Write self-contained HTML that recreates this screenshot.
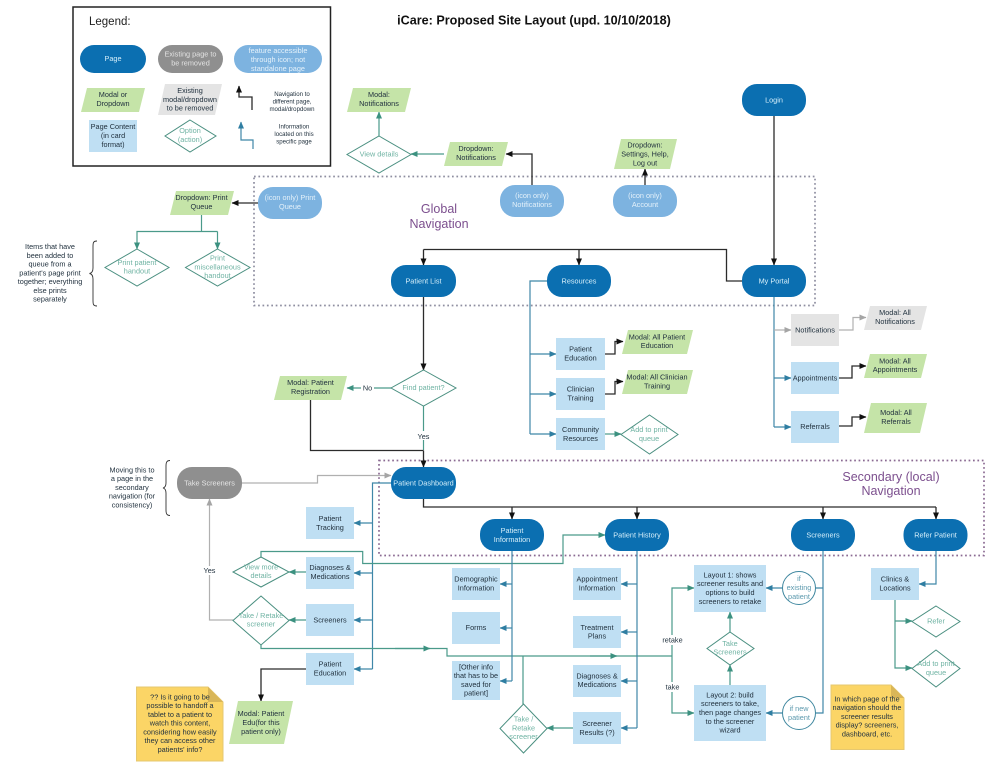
<!DOCTYPE html>
<html><head><meta charset="utf-8">
<style>
html,body{margin:0;padding:0;background:#fff}
svg{display:block;filter:blur(.35px)}
text{font-family:"Liberation Sans",sans-serif;font-size:7.3px;text-anchor:middle;fill:#22323f}
.w text,text.w{fill:#d6effa}
.g text{fill:#e2e2e2}
.i text{fill:#e4f1fa}
.o text{fill:#6fb3a3}
.pg{fill:#0b6fb1}
.gr{fill:#8f8f8f}
.ic{fill:#7db3e0}
.m{fill:#c5e4a8}
.x{fill:#e4e4e4}
.c{fill:#bfdff3}
.d{fill:#fff;stroke:#4a8f80;stroke-width:1}
.cir{fill:#fff;stroke:#3f879f;stroke-width:1}
.n{fill:#fbd566;stroke:#e6c870;stroke-width:1}
.f{fill:#d9b658}
path.k,path.t,path.b,path.y{fill:none;stroke-linejoin:miter}
path.k{stroke:#2b2b2b;stroke-width:1.3;marker-end:url(#ak)}
path.kn{fill:none;stroke:#2b2b2b;stroke-width:1.3}
path.t{stroke:#4a9a8a;stroke-width:1.2;marker-end:url(#at)}
path.tn{fill:none;stroke:#4a9a8a;stroke-width:1.2}
path.b{stroke:#3f87a8;stroke-width:1.2;marker-end:url(#ab)}
path.bn{fill:none;stroke:#3f87a8;stroke-width:1.2}
path.y{stroke:#b0b0b0;stroke-width:1.2;marker-end:url(#ay)}
.brace{fill:none;stroke:#333;stroke-width:.9}
</style></head>
<body>
<svg width="1000" height="767" viewBox="0 0 1000 767" xmlns="http://www.w3.org/2000/svg">
<defs>
<marker id="ak" markerUnits="userSpaceOnUse" markerWidth="8" markerHeight="8" refX="6.5" refY="3" orient="auto"><path d="M0 0L7 3L0 6Z" fill="#111"/></marker>
<marker id="at" markerUnits="userSpaceOnUse" markerWidth="8" markerHeight="8" refX="6.5" refY="3" orient="auto"><path d="M0 0L7 3L0 6Z" fill="#3c9180"/></marker>
<marker id="ab" markerUnits="userSpaceOnUse" markerWidth="8" markerHeight="8" refX="6.5" refY="3" orient="auto"><path d="M0 0L7 3L0 6Z" fill="#2f7ea2"/></marker>
<marker id="ay" markerUnits="userSpaceOnUse" markerWidth="8" markerHeight="8" refX="6.5" refY="3" orient="auto"><path d="M0 0L7 3L0 6Z" fill="#a5a5a5"/></marker>
</defs>

<!-- legend -->
<rect x="73" y="7" width="257.500" height="159" fill="#fff" stroke="#222" stroke-width="1.5"/>
<text x="89" y="25" style="text-anchor:start;font-size:11.5px;fill:#222">Legend:</text>
<text x="534" y="24.500" style="font-weight:bold;font-size:12.6px;fill:#111">iCare: Proposed Site Layout (upd. 10/10/2018)</text>

<rect class="pg" x="80" y="45" width="66" height="28" rx="14"/>
<text class="w" x="113" y="61">Page</text>
<rect class="gr" x="158" y="45" width="65" height="28" rx="14"/>
<g class="g"><text x="190.500" y="56.500">Existing page to</text><text x="190.500" y="65.500">be removed</text></g>
<rect class="ic" x="234" y="45" width="88" height="28" rx="14"/>
<g class="i"><text x="278" y="53">feature accessible</text><text x="278" y="62">through icon; not</text><text x="278" y="71">standalone page</text></g>

<path class="m" d="M87 88H145L139 112H81Z"/>
<text x="113" y="97">Modal or</text><text x="113" y="106">Dropdown</text>
<path class="x" d="M165 84H222L215 115H158Z"/>
<text x="190" y="93">Existing</text><text x="190" y="102">modal/dropdown</text><text x="190" y="110.500">to be removed</text>
<path class="k" d="M252 110V97H239V86"/>
<text x="292" y="96" style="font-size:6.1px">Navigation to</text><text x="292" y="103.500" style="font-size:6.1px">different page,</text><text x="292" y="111" style="font-size:6.1px">modal/dropdown</text>
<rect class="c" x="89" y="120" width="48" height="32"/>
<text x="113" y="129">Page Content</text><text x="113" y="138">(in card</text><text x="113" y="147">format)</text>
<path class="d" d="M190 120L216 136L190 152L165 136Z"/>
<g class="o"><text x="190" y="133">Option</text><text x="190" y="142">(action)</text></g>
<path class="b" d="M253 149V140H241V122"/>
<text x="294" y="128.500" style="font-size:6.1px">Information</text><text x="294" y="136" style="font-size:6.1px">located on this</text><text x="294" y="143.500" style="font-size:6.1px">specific page</text>

<!-- dotted regions -->
<rect x="254" y="176.500" width="561" height="129" fill="none" stroke="#8e8ea0" stroke-width="1.700" stroke-dasharray="1.700 2.700"/>
<rect x="379" y="460.500" width="605" height="95" fill="none" stroke="#8a6a92" stroke-width="1.700" stroke-dasharray="1.700 2.700"/>
<text x="439" y="213" style="font-size:12.500px;fill:#7c4f8e">Global</text><text x="439" y="228" style="font-size:12.500px;fill:#7c4f8e">Navigation</text>
<text x="891" y="481" style="font-size:12.500px;fill:#7c4f8e">Secondary (local)</text><text x="891" y="495" style="font-size:12.500px;fill:#7c4f8e">Navigation</text>

<!-- connectors -->
<path class="k" d="M774 116V265"/>
<path class="kn" d="M742 281H726.500V249.500H423.500"/>
<path class="k" d="M423.500 249.500V265"/>
<path class="k" d="M579 249.500V265"/>
<path class="k" d="M423.500 297V370"/>
<path class="t" d="M391 388H347"/>
<path class="tn" d="M423.500 406V450"/>
<path class="kn" d="M310.500 400V450.500H423.500"/>
<path class="k" d="M423.500 450.500V467"/>
<path class="kn" d="M423.500 499V507H936"/>
<path class="k" d="M512 507V519"/><path class="k" d="M637 507V519"/><path class="k" d="M823 507V519"/><path class="k" d="M936 507V519"/>
<path class="bn" d="M391 483H372.500V669"/>
<path class="b" d="M372.500 523H354"/><path class="b" d="M372.500 573H354"/><path class="b" d="M372.500 620H354"/><path class="b" d="M372.500 669H354"/>
<path class="y" d="M242 483H317.500V475.500H391"/>
<path class="y" d="M233 620H209.500V499"/>
<path class="t" d="M306 572H289"/><path class="t" d="M306 620H289"/>
<path class="t" d="M261 557V551.500H362.700V563.500H563V535H605"/>
<path class="tn" d="M261 645V648.500H447V656H672"/>
<path class="t" d="M395 648.500H430"/>
<path class="t" d="M590 656H617"/>
<path class="tn" d="M523 704V656"/>
<path class="t" d="M672 656V588H694"/>
<path class="t" d="M672 656V713H694"/>
<path class="t" d="M573 728H547"/>
<path class="bn" d="M512 551V681"/>
<path class="b" d="M512 584H500"/><path class="b" d="M512 628H500"/><path class="b" d="M512 681H500"/>
<path class="bn" d="M637 551V728"/>
<path class="b" d="M637 584H621"/><path class="b" d="M637 632H621"/><path class="b" d="M637 681H621"/><path class="b" d="M637 728H621"/>
<path class="bn" d="M547 281H530V434"/>
<path class="b" d="M530 354H556"/><path class="b" d="M530 394H556"/><path class="b" d="M530 434H556"/>
<path class="k" d="M605 354H615V341.500H623"/>
<path class="k" d="M605 394H615V381.500H623"/>
<path class="t" d="M605 434H621"/>
<path class="bn" d="M774 297V427"/>
<path class="y" d="M774 330H791"/><path class="b" d="M774 378H791"/><path class="b" d="M774 427H791"/>
<path class="y" d="M839 330H853V317.500H866"/>
<path class="k" d="M839 378H852V366H866"/>
<path class="k" d="M839 426H852V417H866"/>
<path class="bn" d="M823 551V713H815.500M823 588H815.500"/>
<path class="b" d="M782.500 588H766"/><path class="b" d="M782.500 713H766"/>
<path class="t" d="M730 685V665"/><path class="t" d="M730 632V612"/>
<path class="b" d="M936 551V584H919"/>
<path class="t" d="M895 600V668H912"/><path class="t" d="M895 621H912"/>
<path class="k" d="M306 669H261V701"/>
<path class="k" d="M258 203H232"/>
<path class="tn" d="M201.500 215V231.500"/>
<path class="t" d="M217.500 231.500H137V249"/>
<path class="t" d="M217.500 231.500V249"/>
<path class="k" d="M532 185V154H506"/>
<path class="t" d="M444 154H411"/>
<path class="t" d="M379 136V112"/>
<path class="k" d="M645 185V169"/>

<!-- pills -->
<rect class="pg" x="742" y="84" width="64" height="32" rx="15"/><text class="w" x="774" y="102.500">Login</text>
<rect class="ic" x="500" y="185" width="64" height="32" rx="15"/><g class="i"><text x="532" y="198">(icon only)</text><text x="532" y="207">Notifications</text></g>
<rect class="ic" x="613" y="185" width="64" height="32" rx="15"/><g class="i"><text x="645" y="198">(icon only)</text><text x="645" y="207">Account</text></g>
<rect class="ic" x="258" y="187" width="64" height="32" rx="15"/><g class="i"><text x="290" y="200">(icon only) Print</text><text x="290" y="209">Queue</text></g>
<rect class="pg" x="391" y="265" width="65" height="32" rx="15"/><text class="w" x="423.500" y="283.500">Patient List</text>
<rect class="pg" x="547" y="265" width="64" height="32" rx="15"/><text class="w" x="579" y="283.500">Resources</text>
<rect class="pg" x="742" y="265" width="64" height="32" rx="15"/><text class="w" x="774" y="283.500">My Portal</text>
<rect class="pg" x="391" y="467" width="65" height="32" rx="15"/><text class="w" x="423.500" y="485.500">Patient Dashboard</text>
<rect class="gr" x="177" y="467" width="65" height="32" rx="15"/><text x="209.500" y="485.500" style="fill:#e6e6e6">Take Screeners</text>
<rect class="pg" x="480" y="519" width="64" height="32" rx="15"/><g class="w"><text x="512" y="533">Patient</text><text x="512" y="542">Information</text></g>
<rect class="pg" x="605" y="519" width="64" height="32" rx="15"/><text class="w" x="637" y="537.500">Patient History</text>
<rect class="pg" x="791" y="519" width="64" height="32" rx="15"/><text class="w" x="823" y="537.500">Screeners</text>
<rect class="pg" x="903.500" y="519" width="64" height="32" rx="15"/><text class="w" x="935.500" y="537.500">Refer Patient</text>

<!-- parallelograms -->
<path class="m" d="M353 88H411L405 112H347Z"/><text x="379" y="97">Modal:</text><text x="379" y="106">Notifications</text>
<path class="m" d="M450 142H508L502 166H444Z"/><text x="476" y="151">Dropdown:</text><text x="476" y="160">Notifications</text>
<path class="m" d="M621 139H677L670 169H614Z"/><text x="645" y="147.500">Dropdown:</text><text x="645" y="156.500">Settings, Help,</text><text x="645" y="165.500">Log out</text>
<path class="m" d="M176 191H234L228 215H170Z"/><text x="201.500" y="200">Dropdown: Print</text><text x="201.500" y="209">Queue</text>
<path class="m" d="M280 376H347L341 400H274Z"/><text x="310.500" y="385">Modal: Patient</text><text x="310.500" y="394">Registration</text>
<path class="m" d="M628 330H693L687 354H622Z"/><text x="657" y="339.500">Modal: All Patient</text><text x="657" y="348">Education</text>
<path class="m" d="M628 370H693L687 394H622Z"/><text x="657" y="379.500">Modal: All Clinician</text><text x="657" y="388.500">Training</text>
<path class="x" d="M870 306H927L921 330H864Z"/><text x="895" y="315">Modal: All</text><text x="895" y="324">Notifications</text>
<path class="m" d="M870 354H927L921 378H864Z"/><text x="895" y="363.500">Modal: All</text><text x="895" y="372">Appointments</text>
<path class="m" d="M871 403H927L920 433H864Z"/><text x="896" y="415">Modal: All</text><text x="896" y="424">Referrals</text>
<path class="m" d="M238 701H293L284 744H229Z"/><text x="261" y="716">Modal: Patient</text><text x="261" y="725">Edu(for this</text><text x="261" y="734">patient only)</text>

<!-- rects -->
<rect class="c" x="556" y="338" width="49" height="32"/><text x="580.500" y="351.500">Patient</text><text x="580.500" y="360.500">Education</text>
<rect class="c" x="556" y="378" width="49" height="32"/><text x="580.500" y="391.500">Clinician</text><text x="580.500" y="400.500">Training</text>
<rect class="c" x="556" y="418" width="49" height="32"/><text x="580.500" y="432">Community</text><text x="580.500" y="441">Resources</text>
<rect class="x" x="791" y="314" width="48" height="32"/><text x="815" y="332.500">Notifications</text>
<rect class="c" x="791" y="362" width="48" height="32"/><text x="815" y="380.500">Appointments</text>
<rect class="c" x="791" y="411" width="48" height="32"/><text x="815" y="429">Referrals</text>
<rect class="c" x="306" y="507" width="48" height="32"/><text x="330" y="521">Patient</text><text x="330" y="530">Tracking</text>
<rect class="c" x="306" y="557" width="48" height="32"/><text x="330" y="570">Diagnoses &amp;</text><text x="330" y="579">Medications</text>
<rect class="c" x="306" y="604" width="48" height="32"/><text x="330" y="622.500">Screeners</text>
<rect class="c" x="306" y="653" width="48" height="32"/><text x="330" y="666.500">Patient</text><text x="330" y="675.500">Education</text>
<rect class="c" x="452" y="568" width="48" height="32"/><text x="476" y="581.500">Demographic</text><text x="476" y="590.500">Information</text>
<rect class="c" x="452" y="612" width="48" height="32"/><text x="476" y="630">Forms</text>
<rect class="c" x="452" y="661" width="48" height="39"/><text x="476" y="669.500">[Other info</text><text x="476" y="678">that has to be</text><text x="476" y="687">saved for</text><text x="476" y="695.500">patient]</text>
<rect class="c" x="573" y="568" width="48" height="32"/><text x="597" y="581.500">Appointment</text><text x="597" y="590.500">Information</text>
<rect class="c" x="573" y="616" width="48" height="32"/><text x="597" y="630">Treatment</text><text x="597" y="638.500">Plans</text>
<rect class="c" x="573" y="665" width="48" height="32"/><text x="597" y="678.500">Diagnoses &amp;</text><text x="597" y="687">Medications</text>
<rect class="c" x="573" y="712" width="48" height="32"/><text x="597" y="726">Screener</text><text x="597" y="735">Results (?)</text>
<rect class="c" x="694" y="565" width="72" height="47"/><text x="730" y="577.500">Layout 1: shows</text><text x="730" y="586">screener results and</text><text x="730" y="595">options to build</text><text x="730" y="604">screeners to retake</text>
<rect class="c" x="694" y="685" width="72" height="56"/><text x="730" y="697.500">Layout 2: build</text><text x="730" y="706">screeners to take,</text><text x="730" y="715">then page changes</text><text x="730" y="724">to the screener</text><text x="730" y="732.500">wizard</text>
<rect class="c" x="871" y="568" width="48" height="32"/><text x="895" y="581.500">Clinics &amp;</text><text x="895" y="590.500">Locations</text>

<!-- diamonds -->
<path class="d" d="M379 136L411 154.500L379 173L347 154.500Z"/><g class="o"><text x="379" y="156.500">View details</text></g>
<path class="d" d="M137 249L169 267.500L137 286L105 267.500Z"/><g class="o"><text x="137" y="265">Print patient</text><text x="137" y="273.500">handout</text></g>
<path class="d" d="M217.500 249L250 267.500L217.500 286L185.500 267.500Z"/><g class="o"><text x="217.500" y="260.500">Print</text><text x="217.500" y="269.500">miscellaneous</text><text x="217.500" y="278">handout</text></g>
<path class="d" d="M423.500 370L456 388L423.500 406L391 388Z"/><g class="o"><text x="423.500" y="390">Find patient?</text></g>
<path class="d" d="M649.500 415L678 434.500L649.500 454L621 434.500Z"/><g class="o"><text x="649" y="432">Add to print</text><text x="649" y="441">queue</text></g>
<path class="d" d="M261 557L289 572L261 587L233 572Z"/><g class="o"><text x="261" y="569.500">View more</text><text x="261" y="578">details</text></g>
<path class="d" d="M261 596L289 620.500L261 645L233 620.500Z"/><g class="o"><text x="261" y="618">Take / Retake</text><text x="261" y="626.500">screener</text></g>
<path class="d" d="M523.500 704L547 728.500L523.500 753L500 728.500Z"/><g class="o"><text x="523.500" y="721.500">Take /</text><text x="523.500" y="730.500">Retake</text><text x="523.500" y="739">screener</text></g>
<path class="d" d="M730 632L754 648.500L730 665L707 648.500Z"/><g class="o"><text x="730" y="646">Take</text><text x="730" y="654.500">Screeners</text></g>
<path class="d" d="M936 606L960 621.500L936 637L912 621.500Z"/><g class="o"><text x="936" y="623.500">Refer</text></g>
<path class="d" d="M936 650L960 668.500L936 687L912 668.500Z"/><g class="o"><text x="936" y="666">Add to print</text><text x="936" y="675">queue</text></g>

<!-- circles -->
<circle class="cir" cx="799" cy="588" r="16.500"/><text x="799" y="581" style="fill:#5d9aae">if</text><text x="799" y="590" style="fill:#5d9aae">existing</text><text x="799" y="599" style="fill:#5d9aae">patient</text>
<circle class="cir" cx="799" cy="713" r="16.500"/><text x="799" y="711" style="fill:#5d9aae">if new</text><text x="799" y="720" style="fill:#5d9aae">patient</text>

<!-- notes -->
<path class="n" d="M136.500 687H208L223 702V761H136.500Z"/><path class="f" d="M208 687L223 702H208Z"/>
<text x="180" y="699.500">?? Is it going to be</text><text x="180" y="708">possible to handoff a</text><text x="180" y="717">tablet to a patient to</text><text x="180" y="725.500">watch this content,</text><text x="180" y="734.500">considering how easily</text><text x="180" y="743">they can access other</text><text x="180" y="752">patients' info?</text>
<path class="n" d="M831 685H891L904 698V749.500H831Z"/><path class="f" d="M891 685L904 698H891Z"/>
<text x="867" y="701.500">In which page of the</text><text x="867" y="710">navigation should the</text><text x="867" y="719">screener results</text><text x="867" y="727.500">display? screeners,</text><text x="867" y="736.500">dashboard, etc.</text>

<!-- labels -->
<rect x="361" y="383" width="13" height="9" fill="#fff"/><text x="367.500" y="390.500">No</text>
<rect x="416" y="431" width="15" height="9" fill="#fff"/><text x="423.500" y="439">Yes</text>
<rect x="202" y="566" width="15" height="9" fill="#fff"/><text x="209.500" y="573">Yes</text>
<rect x="662" y="635" width="20" height="10" fill="#fff"/><text x="672.500" y="642.500">retake</text>
<rect x="665" y="682" width="15" height="10" fill="#fff"/><text x="672.500" y="689.500">take</text>

<!-- annotations -->
<text x="50" y="249">Items that have</text><text x="50" y="258">been added to</text><text x="50" y="266.500">queue from a</text><text x="50" y="275.500">patient's page print</text><text x="50" y="284">together; everything</text><text x="50" y="293">else prints</text><text x="50" y="301.500">separately</text>
<path class="brace" d="M97 241C93 241 93 243 93 247V268C93 271 92 273 89.500 273.500C92 274 93 276 93 279V300C93 304 93 306 97 306"/>
<text x="132" y="472.500">Moving this to</text><text x="132" y="481">a page in the</text><text x="132" y="490">secondary</text><text x="132" y="498.500">navigation (for</text><text x="132" y="507.500">consistency)</text>
<path class="brace" d="M170 460.500C167 460.500 166 462 166 466V483C166 486 165 487.500 163 488C165 488.500 166 490 166 493V510C166 514 167 515.500 170 515.500"/>
</svg>
</body></html>
